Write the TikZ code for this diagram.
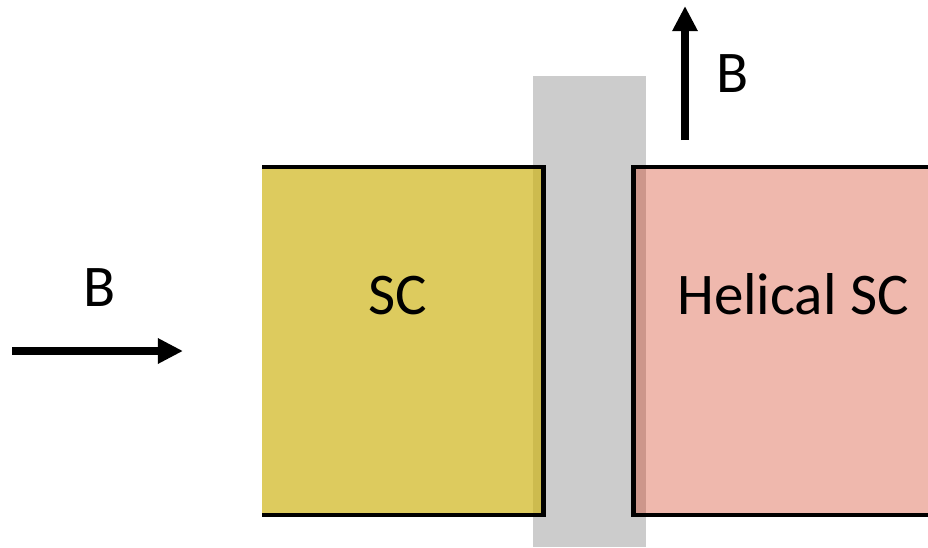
\documentclass[tikz,border=0pt]{standalone}
\usepackage{fontspec}
\setmainfont{Carlito}
\usetikzlibrary{arrows.meta, positioning}
\definecolor{barGray}{RGB}{204,204,204}
\definecolor{scYellow}{RGB}{206,181,25}
\definecolor{hscPink}{RGB}{209,52,20}
\tikzset{
  lbl/.style={font=\fontsize{42}{50}\selectfont, inner sep=0pt},
  field/.style={-{Triangle[length=0.63cm, width=0.6cm]}, line width=5.7pt},
  slab/.style={draw=black, line width=2.9pt, line join=miter}
}
\begin{document}
\begin{tikzpicture}[x=0.025cm, y=-0.025cm]
\useasboundingbox (0,0) rectangle (928,547);
% barrier
\fill[barGray] (533,76) rectangle (646,547);
% superconductors
\fill[scYellow, fill opacity=0.7] (262,167) rectangle (543.5,515);
\draw[slab] (262,167) -| (543.5,515) -- (262,515);
\fill[hscPink, fill opacity=0.35] (633.5,167) rectangle (928,515);
\draw[slab] (928,167) -| (633.5,515) -- (928,515);
\node[lbl] (sc) at (398,296) {SC};
\node[lbl] (hsc) at (793,294) {Helical SC};
% fields
\coordinate (hs) at (12,351);
\coordinate (he) at (183,351);
\draw[field] (hs) -- (he);
\node[lbl] (bh) at (100,288) {B};
\coordinate (vs) at (685,140);
\coordinate (ve) at (685,6);
\draw[field] (vs) -- (ve);
\node[lbl] (bv) at (733,74) {B};
\end{tikzpicture}
\end{document}
